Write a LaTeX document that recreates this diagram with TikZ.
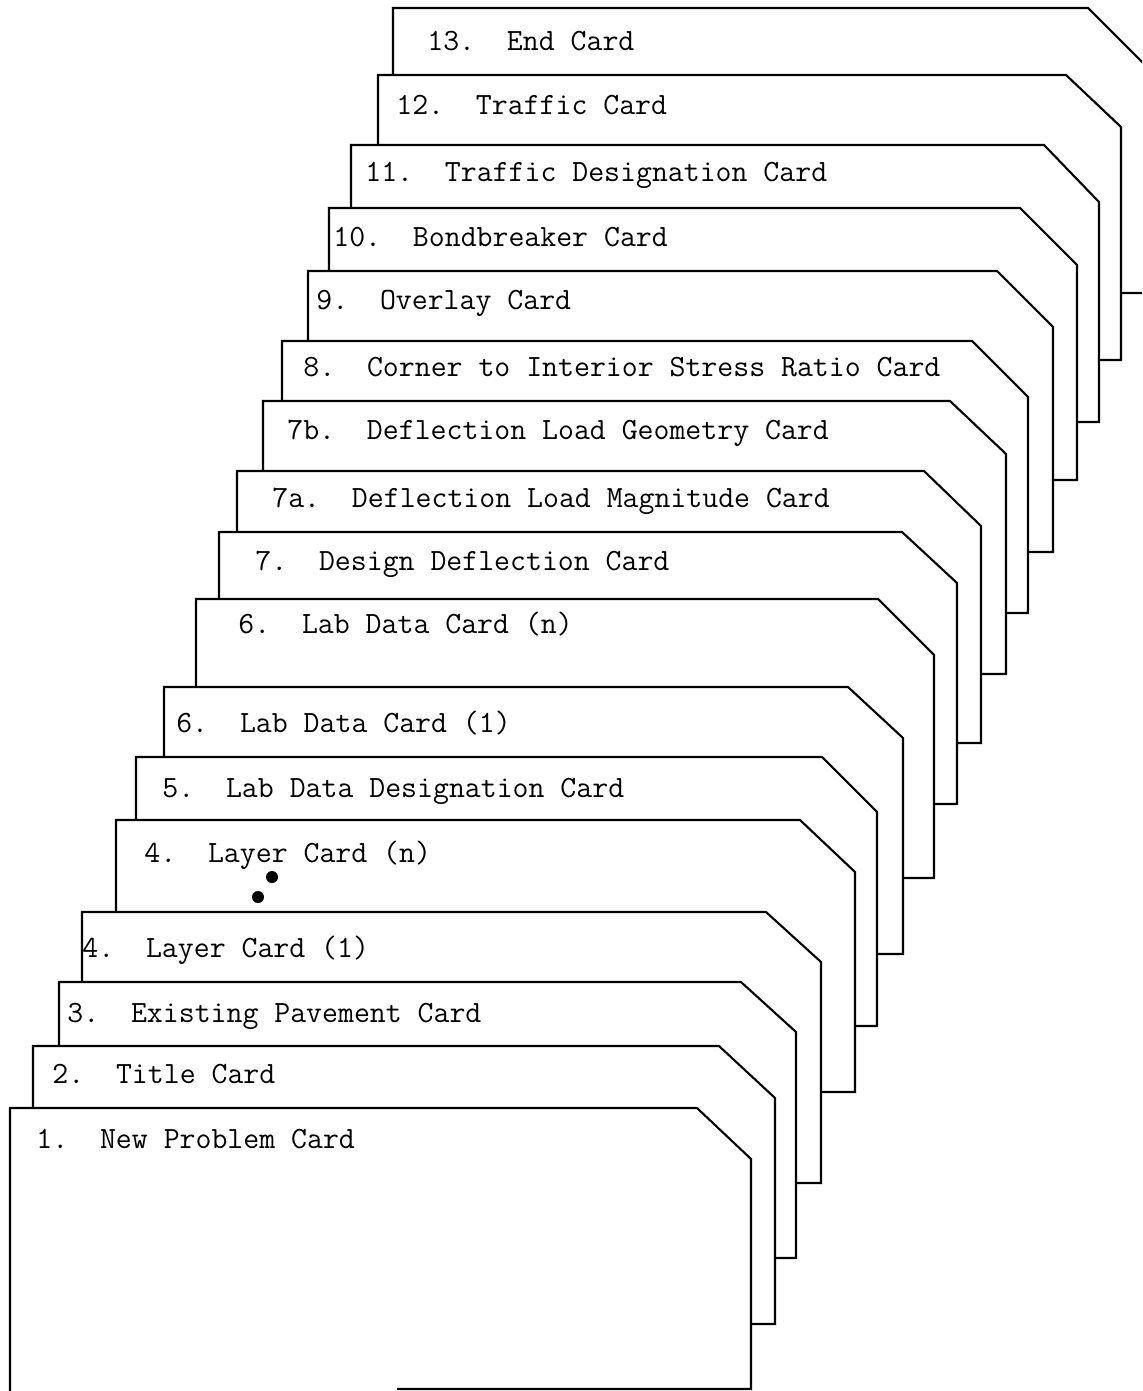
\documentclass[tikz,border=0pt]{standalone}
\frenchspacing
\begin{document}
\begin{tikzpicture}[x=0.02cm,y=-0.02cm,
    card/.style={draw=black,fill=white,line width=1.2pt,line join=miter},
    cardedge/.style={draw=black,line width=1.2pt,line join=miter},
    cardlabel/.style={anchor=base west,inner sep=0pt,
      font=\fontsize{17.6}{20}\selectfont\ttfamily}]
  \useasboundingbox (0,0) rectangle (1142,1391);
  \clip (0,0) rectangle (1142,1391);
  % back to front: left, top, cut start, right, cut end, bottom, label
  \foreach \n/\l/\t/\c/\r/\d/\b/\lx/\ly/\txt in {
      13/393/8/1088/1152/72/293/427/51/{13.\ \ End Card},
      12/378/75/1066/1121/127/360/396/115/{12.\ \ Traffic Card},
      11/351/145/1044/1099/202/422/365/182/{11.\ \ Traffic Designation Card},
      10/329/208/1020/1077/265/480/333/247/{10.\ \ Bondbreaker Card},
      9/308/271/997/1053/327/552/316/310/{9.\ \ Overlay Card},
      8/282/341/972/1028/397/613/303/377/{8.\ \ Corner to Interior Stress Ratio Card},
      7b/263/401/950/1006/454/674/287/439/{7b.\ \ Deflection Load Geometry Card},
      7a/237/471/924/981/526/743/272/507/{7a.\ \ Deflection Load Magnitude Card},
      7/219/532/902/957/583/804/255/570/{7.\ \ Design Deflection Card},
      6n/196/599/878/934/655/878/238/633/{6.\ \ Lab Data Card (n)},
      6i/164/687/848/903/738/954/176/732/{6.\ \ Lab Data Card (1)},
      5/136/757/822/877/812/1026/162/797/{5.\ \ Lab Data Designation Card},
      4n/116/820/800/855/872/1092/144/862/{4.\ \ Layer Card (n)},
      4i/82/912/766/821/962/1183/82/957/{4.\ \ Layer Card (1)},
      3/59/982/741/796/1032/1258/67/1022/{3.\ \ Existing Pavement Card},
      2/33/1046/719/775/1098/1324/52/1083/{2.\ \ Title Card}}{
    \draw[card] (\l,\b) -- (\l,\t) -- (\c,\t) -- (\r,\d) -- (\r,\b) -- cycle;
    \node[cardlabel] (lbl\n) at (\lx,\ly) {\txt};
  }
  % front card, its bottom edge only partly printed
  \fill[white] (10,1108) -- (697,1108) -- (751,1159) -- (751,1389) -- (10,1391) -- cycle;
  \draw[cardedge] (397,1389) -- (751,1389) -- (751,1159) -- (697,1108) -- (10,1108) -- (10,1391);
  \node[cardlabel] (lbl1) at (36,1148) {1.\ \ New Problem Card};
  % continuation dots on the layer cards
  \fill (272,877) circle[radius=6];
  \fill (258,897) circle[radius=6];
\end{tikzpicture}
\end{document}
